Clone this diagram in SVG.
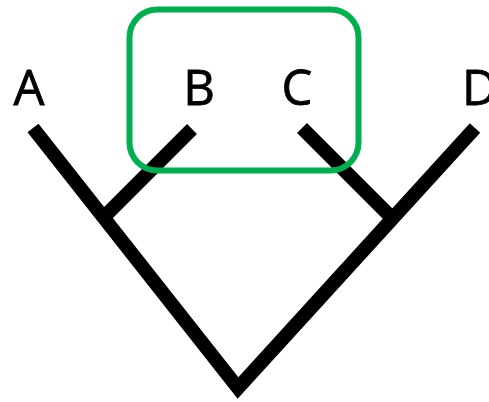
<svg xmlns="http://www.w3.org/2000/svg" width="489" height="402" viewBox="0 0 489 402">
  <style>
    .label { font-family: "Open Sans", Lato, "Liberation Sans", sans-serif; font-size: 49px; fill: #000; stroke: #000; stroke-width: 0.8; }
    .branch { fill: none; stroke: #000; stroke-width: 14; stroke-linecap: butt; stroke-linejoin: miter; stroke-miterlimit: 10; }
    .clade { fill: none; stroke: #00b050; stroke-width: 6; }
  </style>
  <rect width="489" height="402" fill="#fff"/>

  <!-- tree branches -->
  <g id="connectors">
    <polyline class="branch" points="33,128 238,388 475,128"/>
    <line class="branch" x1="192" y1="129" x2="104" y2="217"/>
    <line class="branch" x1="302" y1="128" x2="392" y2="218"/>
  </g>

  <!-- leaf labels -->
  <g id="node-A"><text class="label" x="29" y="105" text-anchor="middle">A</text></g>
  <g id="node-B"><text class="label" x="199" y="105" text-anchor="middle">B</text></g>
  <g id="node-C"><text class="label" x="297" y="105" text-anchor="middle">C</text></g>
  <g id="node-D"><text class="label" x="462" y="105">D</text></g>

  <!-- clade highlight around B and C -->
  <g id="clade-BC">
    <rect class="clade" x="129.5" y="9.5" width="229" height="161" rx="28" ry="28"/>
  </g>
</svg>
